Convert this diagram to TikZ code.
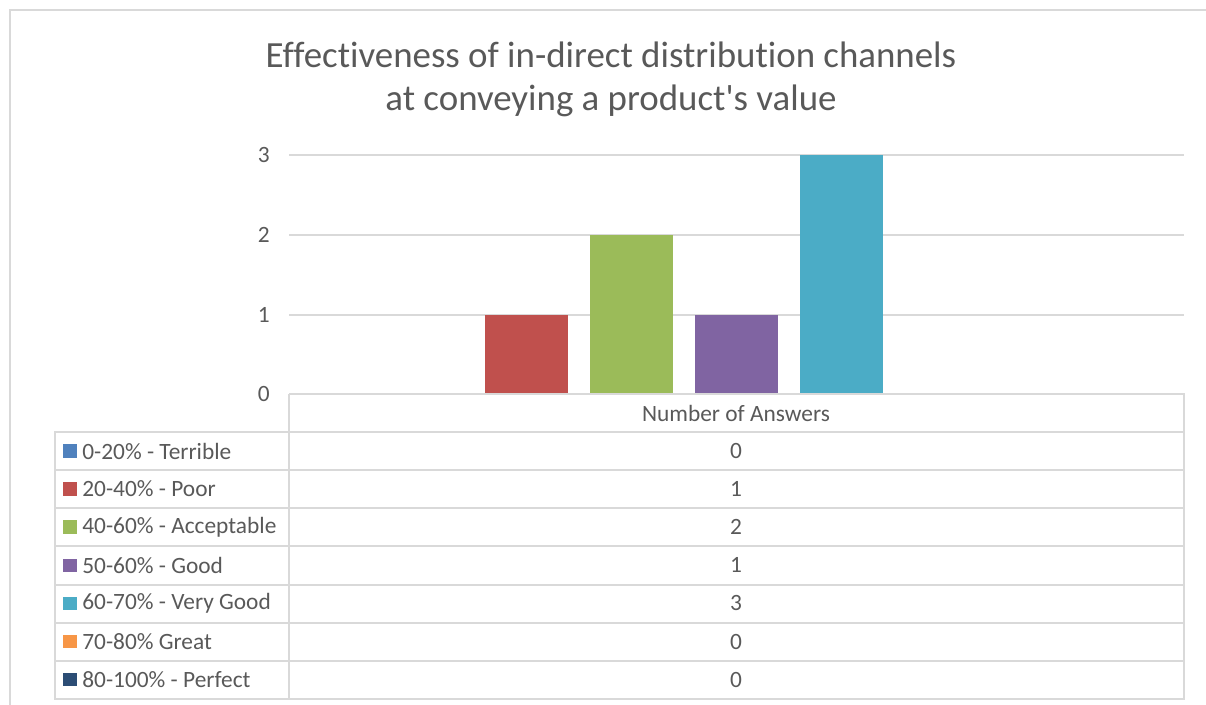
\documentclass[tikz,border=0pt]{standalone}
\usepackage{fontspec}
\newfontfamily\chartfont{Carlito}[Ligatures={NoCommon}]
\definecolor{gridgray}{HTML}{D9D9D9}
\definecolor{txtgray}{HTML}{595959}
\definecolor{cterrible}{HTML}{4F81BD}
\definecolor{cpoor}{HTML}{C0504D}
\definecolor{cacceptable}{HTML}{9BBB59}
\definecolor{cgood}{HTML}{8064A2}
\definecolor{cverygood}{HTML}{4BACC6}
\definecolor{cgreat}{HTML}{F79646}
\definecolor{cperfect}{HTML}{2C4D75}
\begin{document}
\begin{tikzpicture}[x=0.02cm,y=-0.02cm,
                    grid/.style = {gridgray,line width=1pt},
                    lbl/.style  = {txtgray,inner sep=0pt,font=\chartfont\fontsize{13.3}{15}\selectfont},
                    title/.style = {txtgray,inner sep=0pt,font=\chartfont\fontsize{21}{25}\selectfont},
                    key/.style  = {inner sep=0pt,minimum size=0.27cm}]
                    \useasboundingbox (0,0) rectangle (1206,705);

                    % chart frame and title
                    \draw[grid] (10,705) -- (10,10) -- (1206,10);
                    \node[title] (t1) at (611,55)  {Effectiveness of in-direct distribution channels};
                    \node[title] (t2) at (611,101) {at conveying a product's value};

                    % value axis
                    \foreach \v/\y in {1/315,2/235,3/155} {
                        \draw[grid] (289,\y) -- (1184,\y);
                        \node[lbl,anchor=east] (y\v) at (270,\y) {\v};
                    }
                    \node[lbl,anchor=east] (y0) at (270,394) {0};

                    % bars
                    \fill[cpoor]       (485,394) rectangle (568,315);
                    \fill[cacceptable] (590,394) rectangle (673,235);
                    \fill[cgood]       (695,394) rectangle (778,315);
                    \fill[cverygood]   (800,394) rectangle (883,155);

                    % data table
                    \draw[grid] (289,394) -- (1184,394) -- (1184,699) -- (55,699) -- (55,432) -- (1184,432);
                    \draw[grid] (289,394) -- (289,699);
                    \foreach \y in {470,508,546,585,623,661} \draw[grid] (55,\y) -- (1184,\y);
                    \node[lbl] (head) at (736,413) {Number of Answers};

                    \foreach \i/\c/\t/\n in {0/cterrible/{0-20\% - Terrible}/0,
                                             1/cpoor/{20-40\% - Poor}/1,
                                             2/cacceptable/{40-60\% - Acceptable}/2,
                                             3/cgood/{50-60\% - Good}/1,
                                             4/cverygood/{60-70\% - Very Good}/3,
                                             5/cgreat/{70-80\% Great}/0,
                                             6/cperfect/{80-100\% - Perfect}/0} {
                        \pgfmathsetmacro\yy{451+38.1*\i}
                        \node[key,fill=\c] (s\i) at (70,\yy) {};
                        \node[lbl,anchor=west] (k\i) at (82,\yy) {\t};
                        \node[lbl] (v\i) at (736,\yy) {\n};
                    }

                \end{tikzpicture}
\end{document}
